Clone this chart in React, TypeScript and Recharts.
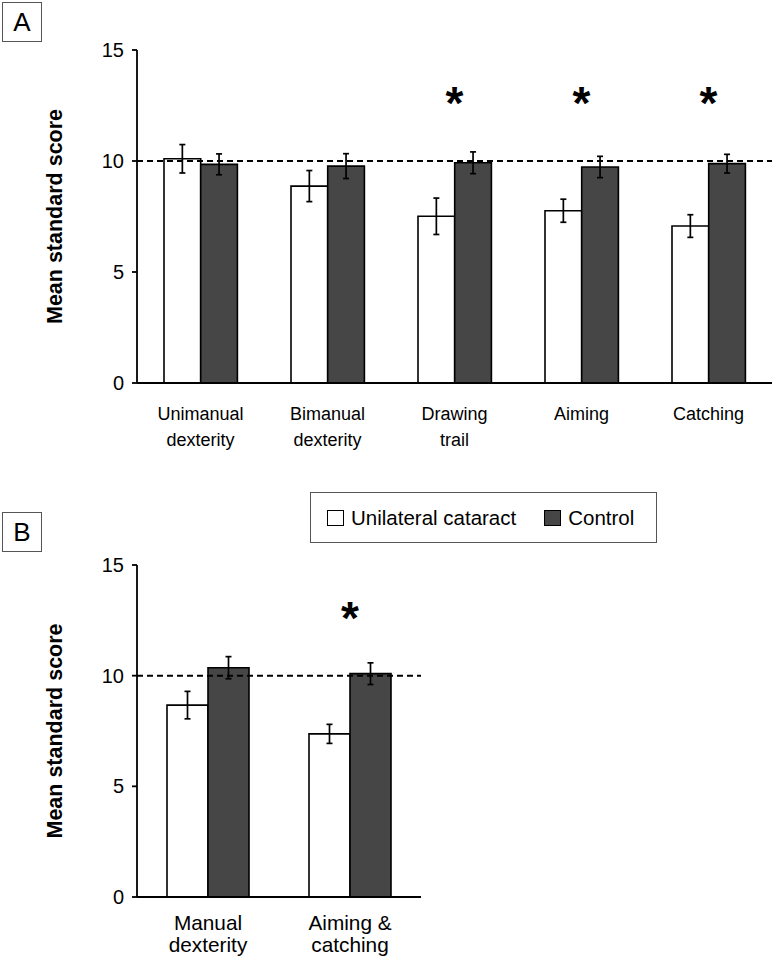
import React from "react";
import {
  BarChart,
  Bar,
  XAxis,
  YAxis,
  ErrorBar,
  ReferenceLine,
  ReferenceDot,
  Legend,
} from "recharts";

const FONT = "'Liberation Sans', Arial, Helvetica, sans-serif";

// panel A
const tasksA = ["Unimanual\ndexterity", "Bimanual\ndexterity", "Drawing\ntrail", "Aiming", "Catching"];
const cataractA = [10.1, 8.87, 7.51, 7.76, 7.07];
const cataractErrA = [0.64, 0.7, 0.82, 0.52, 0.51];
const controlA = [9.85, 9.77, 9.92, 9.73, 9.88];
const controlErrA = [0.47, 0.56, 0.49, 0.48, 0.42];
const sigA = [false, false, true, true, true];

// panel B
const tasksB = ["Manual\ndexterity", "Aiming &\ncatching"];
const cataractB = [8.67, 7.37];
const cataractErrB = [0.62, 0.43];
const controlB = [10.36, 10.09];
const controlErrB = [0.5, 0.49];
const sigB = [false, true];

const yTicks = [0, 5, 10, 15];
const normScore = 10;
const starLevel = 13;
const seriesOrder = ["cataract", "control"];

const rows = (tasks: string[], c: number[], ce: number[], k: number[], ke: number[]) =>
  tasks.map((task, i) => ({
    task,
    cataract: c[i],
    cataractErr: ce[i],
    control: k[i],
    controlErr: ke[i],
  }));

const dataA = rows(tasksA, cataractA, cataractErrA, controlA, controlErrA);
const dataB = rows(tasksB, cataractB, cataractErrB, controlB, controlErrB);

const makeCatTick = (fontSize: number, firstDy: number, lineH: number) => (props: any) => {
  const { x, y, payload } = props;
  const lines = String(payload.value).split("\n");
  return (
    <text x={x} y={y} textAnchor="middle" fontSize={fontSize} fontFamily={FONT} fill="#000">
      {lines.map((l, i) => (
        <tspan key={i} x={x} dy={i === 0 ? firstDy : lineH}>
          {l}
        </tspan>
      ))}
    </text>
  );
};

const yLabel = (props: any) => {
  const vb = props.viewBox;
  const cy = vb.y + vb.height / 2;
  return (
    <text
      x={62}
      y={cy}
      transform={`rotate(-90 62 ${cy})`}
      textAnchor="middle"
      fontSize={21.5}
      fontWeight="bold"
      fontFamily={FONT}
      fill="#000"
    >
      Mean standard score
    </text>
  );
};

const Star = (p: any) => (
  <text
    x={p.cx}
    y={p.cy + 25}
    textAnchor="middle"
    fontSize={46}
    fontWeight="bold"
    fontFamily={FONT}
    fill="#000"
  >
    *
  </text>
);

const LegendBox = (props: any) => {
  const items = [...(props.payload || [])].sort(
    (a: any, b: any) => seriesOrder.indexOf(a.dataKey) - seriesOrder.indexOf(b.dataKey)
  );
  return (
    <div
      style={{
        boxSizing: "border-box",
        width: "100%",
        height: "100%",
        border: "1px solid #555",
        display: "flex",
        alignItems: "center",
        paddingLeft: 16,
        fontFamily: FONT,
        fontSize: 20.5,
        color: "#000",
        background: "#fff",
      }}
    >
      {items.map((e: any, i: number) => (
        <span key={e.value} style={{ display: "flex", alignItems: "center", marginLeft: i ? 28 : 0 }}>
          <span
            style={{
              display: "inline-block",
              width: 17,
              height: 16,
              boxSizing: "border-box",
              border: "1.5px solid #000",
              background: e.color,
              marginRight: 7,
            }}
          />
          {e.value}
        </span>
      ))}
    </div>
  );
};

const PanelTag = ({ letter, top }: { letter: string; top: number }) => (
  <div
    style={{
      position: "absolute",
      left: 2,
      top,
      width: 40,
      height: 40,
      boxSizing: "border-box",
      border: "1px solid #555",
      fontFamily: FONT,
      fontSize: 26,
      lineHeight: "38px",
      textAlign: "center",
      color: "#000",
    }}
  >
    {letter}
  </div>
);

const axisStroke = { stroke: "#000", strokeWidth: 1.8 };

function Panel(props: {
  data: any[];
  sig: boolean[];
  height: number;
  margin: any;
  xAxisH: number;
  barSize: number;
  tick: any;
  legend?: boolean;
}) {
  const { data, sig, height, margin, xAxisH, barSize, tick, legend } = props;
  return (
    <BarChart width={775} height={height} data={data} margin={margin} barGap={0} barSize={barSize}>
      <XAxis
        dataKey="task"
        interval={0}
        tickLine={false}
        tickSize={0}
        tickMargin={0}
        height={xAxisH}
        axisLine={axisStroke}
        tick={tick}
      />
      <YAxis
        width={137}
        domain={[0, 15]}
        ticks={yTicks}
        interval={0}
        tickSize={5}
        tickMargin={8}
        axisLine={axisStroke}
        tickLine={axisStroke}
        tick={{ fill: "#000", fontSize: 20, fontFamily: FONT }}
        label={{ content: yLabel }}
      />
      <Bar
        dataKey="cataract"
        name="Unilateral cataract"
        fill="#ffffff"
        stroke="#000"
        strokeWidth={1.6}
        isAnimationActive={false}
      >
        <ErrorBar dataKey="cataractErr" width={3} stroke="#000" strokeWidth={1.7} isAnimationActive={false} />
      </Bar>
      <Bar
        dataKey="control"
        name="Control"
        fill="#464646"
        stroke="#000"
        strokeWidth={1.6}
        isAnimationActive={false}
      >
        <ErrorBar dataKey="controlErr" width={3} stroke="#000" strokeWidth={1.7} isAnimationActive={false} />
      </Bar>
      <ReferenceLine y={normScore} stroke="#000" strokeWidth={2} strokeDasharray="6 4" />
      {data.map((d, i) =>
        sig[i] ? (
          <ReferenceDot key={d.task} x={d.task} y={starLevel} r={0} shape={Star} ifOverflow="visible" />
        ) : null
      )}
      {legend ? (
        <Legend
          layout="horizontal"
          verticalAlign="middle"
          align="center"
          content={LegendBox}
          wrapperStyle={{ left: 310, top: 12, width: 347, height: 51 }}
        />
      ) : null}
    </BarChart>
  );
}

export default function App() {
  return (
    <div style={{ position: "absolute", left: 0, top: 0, width: 775, height: 960, background: "#fff" }}>
      <div style={{ position: "absolute", left: 0, top: 0 }}>
        <Panel
          data={dataA}
          sig={sigA}
          height={470}
          margin={{ top: 50, right: 3, bottom: 0, left: 0 }}
          xAxisH={87}
          barSize={36.7}
          tick={makeCatTick(18, 37, 26)}
        />
      </div>
      <div style={{ position: "absolute", left: 0, top: 480 }}>
        <Panel
          data={dataB}
          sig={sigB}
          height={480}
          margin={{ top: 85, right: 354, bottom: 0, left: 0 }}
          xAxisH={63}
          barSize={41}
          tick={makeCatTick(20.8, 33, 22)}
          legend
        />
      </div>
      <PanelTag letter="A" top={2} />
      <PanelTag letter="B" top={512} />
    </div>
  );
}
